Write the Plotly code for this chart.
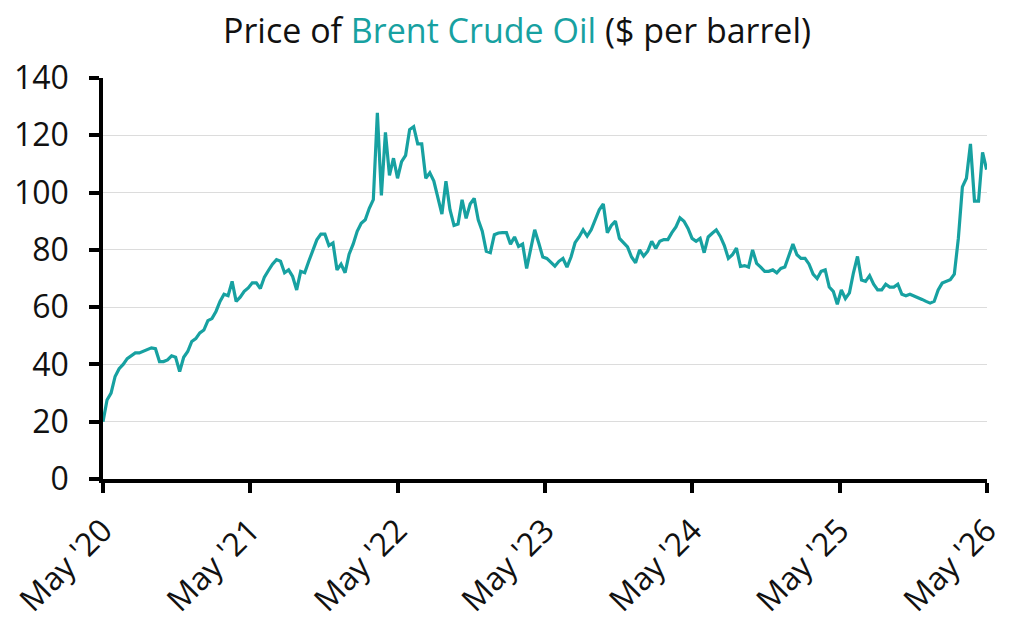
"""
Brent crude oil price chart ($ per barrel), May 2020 - May 2026
"""

import pandas as pd
import plotly.graph_objects as go

# Brent price, one value every 10 days from 1 May 2020
start_date = "2020-05-01"
step = "10D"
brent_price = [
    20.0, 27.6, 30.0, 35.8, 38.5, 40.0, 42.0, 43.0, 44.0, 44.0,
    44.7, 45.3, 45.8, 45.5, 41.0, 41.0, 41.6, 43.0, 42.5, 37.5,
    42.5, 44.5, 48.0, 49.0, 51.0, 52.0, 55.3, 56.0, 58.5, 62.0,
    64.5, 64.0, 69.0, 62.0, 63.5, 65.5, 66.7, 68.5, 68.5, 66.5,
    70.5, 72.8, 75.0, 76.6, 76.0, 72.0, 73.0, 70.7, 66.0, 72.5,
    72.0, 76.0, 80.0, 83.5, 85.5, 85.5, 81.5, 82.4, 73.0, 75.0,
    72.0, 78.5, 82.0, 86.5, 89.3, 90.5, 94.5, 97.5, 127.8, 99.0,
    121.0, 106.0, 112.0, 105.0, 110.8, 113.0, 122.0, 123.0, 117.0, 117.0,
    105.0, 106.9, 104.0, 98.5, 92.5, 104.0, 94.0, 88.5, 89.0, 97.5,
    91.0, 96.0, 98.0, 90.5, 86.5, 79.5, 79.0, 85.3, 85.9, 86.0,
    86.0, 82.0, 84.5, 81.2, 82.0, 73.5, 80.0, 87.0, 82.4, 77.5,
    77.0, 75.5, 74.3, 76.0, 77.0, 74.0, 77.5, 82.5, 84.5, 87.0,
    84.8, 87.0, 90.8, 94.0, 96.0, 86.0, 88.5, 90.0, 84.0, 82.5,
    81.0, 77.5, 75.5, 80.0, 77.8, 79.5, 83.0, 80.5, 83.0, 83.6,
    83.6, 86.0, 88.0, 91.2, 90.0, 87.5, 84.0, 83.0, 84.0, 79.0,
    84.5, 85.8, 87.0, 84.7, 81.5, 77.0, 78.3, 80.6, 74.2, 74.5,
    74.0, 80.0, 75.3, 74.0, 72.5, 72.5, 73.0, 72.0, 73.5, 74.0,
    78.0, 82.0, 78.3, 77.0, 77.0, 75.0, 71.5, 70.0, 72.5, 73.0,
    67.0, 65.5, 61.0, 66.0, 63.0, 65.0, 72.0, 77.7, 69.5, 69.0,
    71.0, 68.0, 66.0, 66.0, 68.0, 67.0, 67.0, 68.0, 64.5, 64.0,
    64.5, 64.0, 63.3, 62.7, 62.0, 61.4, 62.0, 66.0, 68.4, 69.0,
    69.6, 71.5, 84.0, 102.0, 105.0, 117.0, 97.0, 97.0, 114.0, 108.0,
]

tick_dates = ["2020-05-01", "2021-05-01", "2022-05-01", "2023-05-01",
              "2024-05-01", "2025-05-01", "2026-05-01"]
tick_labels = ["May '20", "May '21", "May '22", "May '23",
               "May '24", "May '25", "May '26"]

TEAL = "#17a1a1"
FONT = "Open Sans"

dates = pd.date_range(start_date, periods=len(brent_price), freq=step)

fig = go.Figure()
fig.add_trace(go.Scatter(
    x=dates,
    y=brent_price,
    mode="lines",
    line=dict(color=TEAL, width=3.2),
    hoverinfo="x+y",
))

axis_style = dict(
    showline=True,
    linecolor="black",
    linewidth=3.5,
    ticks="outside",
    ticklen=10,
    tickwidth=3.5,
    tickcolor="black",
    zeroline=False,
    automargin=False,
)

# page body has an 8px margin, so the figure is sized to fit inside it
fig.update_layout(
    width=1008,
    height=616,
    paper_bgcolor="white",
    plot_bgcolor="white",
    showlegend=False,
    font=dict(family=FONT, size=32, color="#111111"),
    margin=dict(l=95, r=29, t=70, b=145),
    title=dict(
        text=f"Price of <span style='color:{TEAL}'>Brent Crude Oil</span> ($ per barrel)",
        x=0.505,
        xanchor="center",
        y=0.963,
        yanchor="middle",
        font=dict(family=FONT, size=34, color="#111111"),
    ),
    xaxis=dict(
        range=[tick_dates[0], tick_dates[-1]],
        tickvals=tick_dates,
        ticktext=tick_labels,
        tickangle=-45,
        showgrid=False,
        ticklabelstandoff=6,
        **axis_style,
    ),
    yaxis=dict(
        range=[0, 140],
        tickvals=[0, 20, 40, 60, 80, 100, 120, 140],
        showgrid=True,
        gridcolor="#dcdcdc",
        gridwidth=1,
        ticklabelstandoff=14,
        **axis_style,
    ),
)

fig.write_html("out.html")
